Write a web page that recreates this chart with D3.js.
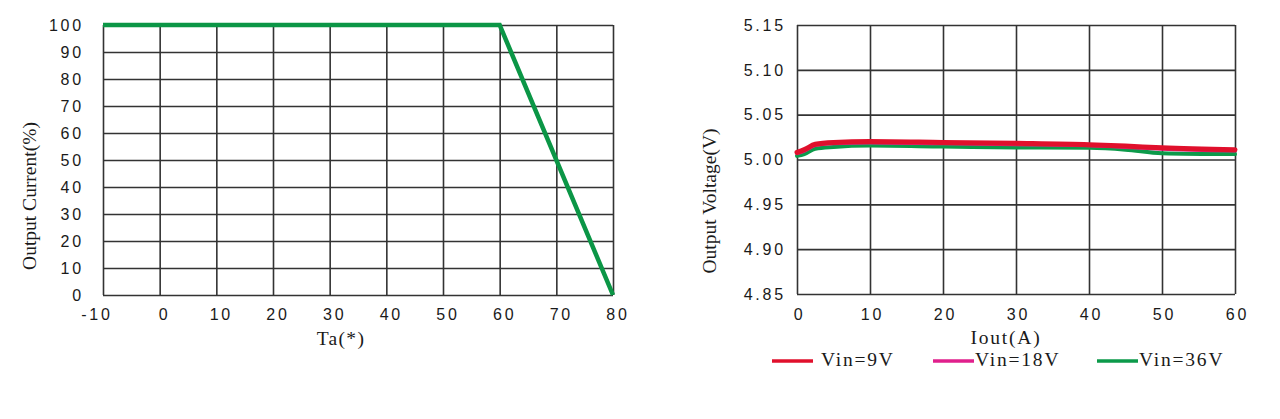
<!DOCTYPE html>
<html>
<head>
<meta charset="utf-8">
<script src="https://cdn.jsdelivr.net/npm/d3@7"></script>
<style>
  html, body { margin: 0; padding: 0; background: #fff; }
  svg { display: block; }
  .tick-label { font-family: "Liberation Sans", Arial, sans-serif; font-size: 16px; letter-spacing: 2.8px; fill: #1a1a1a; }
  .title { font-family: "Liberation Serif", "Times New Roman", serif; font-size: 19.5px; fill: #1a1a1a; }
</style>
</head>
<body>
<svg id="chart" width="1280" height="419"></svg>
<script>
// ---------- Data: derating curve (left) ----------
const deratingTicksX = [-10, 0, 10, 20, 30, 40, 50, 60, 70, 80];
const deratingTicksY = [0, 10, 20, 30, 40, 50, 60, 70, 80, 90, 100];
const deratingTemp = [-10, 60, 80];
const deratingCurrent = [100, 100, 0];

// ---------- Data: load regulation (right) ----------
const ioutTicks = [0, 10, 20, 30, 40, 50, 60];
const voutTicks = [4.85, 4.90, 4.95, 5.00, 5.05, 5.10, 5.15];
const iout = [0, 1, 2.5, 5, 10, 20, 30, 40, 45, 50, 60];
const vin9 = [5.008, 5.011, 5.017, 5.019, 5.020, 5.019, 5.018, 5.0165, 5.015, 5.013, 5.011];
const vin18 = [5.007, 5.010, 5.016, 5.018, 5.019, 5.018, 5.017, 5.016, 5.014, 5.012, 5.010];
const vin36 = [5.004, 5.006, 5.012, 5.014, 5.0155, 5.0145, 5.0135, 5.013, 5.011, 5.007, 5.006];
const seriesNames = ["Vin=9V", "Vin=18V", "Vin=36V"];
const seriesColors = ["#e0102c", "#e0208c", "#0c9a4a"];

const svg = d3.select("#chart");
const gridColor = "#333333";

function drawGrid(g, x, y, xTicks, yTicks) {
  const [x0, x1] = x.range();
  const [y0, y1] = y.range();
  g.append("g").attr("transform", `translate(0,${y0})`)
    .call(d3.axisBottom(x).tickValues(xTicks).tickSize(-(y0 - y1)).tickFormat(""))
    .call(a => a.select(".domain").remove())
    .call(a => a.selectAll("line").attr("stroke", gridColor).attr("stroke-width", 1.6));
  g.append("g").attr("transform", `translate(${x0},0)`)
    .call(d3.axisLeft(y).tickValues(yTicks).tickSize(-(x1 - x0)).tickFormat(""))
    .call(a => a.select(".domain").remove())
    .call(a => a.selectAll("line").attr("stroke", gridColor).attr("stroke-width", 1.6));
}

// ---------- Left chart ----------
{
  const x = d3.scaleLinear().domain([-10, 80]).range([103, 613]);
  const y = d3.scaleLinear().domain([0, 100]).range([295, 25]);
  const g = svg.append("g");
  drawGrid(g, x, y, deratingTicksX, deratingTicksY);

  g.selectAll(".ylab").data(deratingTicksY).join("text")
    .attr("class", "tick-label").attr("text-anchor", "end")
    .attr("x", 84).attr("y", d => y(d)).attr("dy", "0.36em")
    .text(d => d);
  g.selectAll(".xlab").data(deratingTicksX).join("text")
    .attr("class", "tick-label").attr("text-anchor", "middle")
    .attr("x", d => x(d) + (d < 0 ? -6 : 5)).attr("y", 320)
    .text(d => d);

  g.append("text").attr("class", "title").attr("text-anchor", "middle")
    .attr("x", 341).attr("y", 345).style("letter-spacing", "1.3px").text("Ta(*)");
  g.append("text").attr("class", "title").attr("text-anchor", "middle")
    .attr("transform", "translate(36,196) rotate(-90)")
    .text("Output Current(%)");

  const line = d3.line().x(d => x(d[0])).y(d => y(d[1]));
  g.append("path").datum(deratingTemp.map((t, i) => [t, deratingCurrent[i]]))
    .attr("d", line).attr("fill", "none").attr("stroke", "#0b9646")
    .attr("stroke-width", 4.5).attr("stroke-linejoin", "miter");
}

// ---------- Right chart ----------
{
  const x = d3.scaleLinear().domain([0, 60]).range([797, 1235]);
  const y = d3.scaleLinear().domain([4.85, 5.15]).range([294, 25]);
  const g = svg.append("g");
  drawGrid(g, x, y, ioutTicks, voutTicks);

  g.selectAll(".ylab").data(voutTicks).join("text")
    .attr("class", "tick-label").attr("text-anchor", "end")
    .attr("x", 786).attr("y", d => y(d)).attr("dy", "0.36em")
    .text(d => d.toFixed(2));
  g.selectAll(".xlab").data(ioutTicks).join("text")
    .attr("class", "tick-label").attr("text-anchor", "middle")
    .attr("x", d => x(d) + 2.5).attr("y", 320)
    .text(d => d);

  g.append("text").attr("class", "title").attr("text-anchor", "middle")
    .attr("x", 1006).attr("y", 344).style("letter-spacing", "1.8px").text("Iout(A)");
  g.append("text").attr("class", "title").attr("text-anchor", "middle")
    .attr("transform", "translate(716,201) rotate(-90)")
    .text("Output Voltage(V)");

  const line = d3.line().curve(d3.curveMonotoneX).x(d => x(d[0])).y(d => y(d[1]));
  const series = [vin9, vin18, vin36].map((vals, i) => ({
    name: seriesNames[i], color: seriesColors[i],
    pts: iout.map((a, j) => [a, vals[j]])
  }));
  const widths = [5, 4, 4];
  // draw green first, red on top
  [2, 1, 0].forEach(i => {
    g.append("path").datum(series[i].pts).attr("d", line)
      .attr("fill", "none").attr("stroke", series[i].color)
      .attr("stroke-width", widths[i]).attr("stroke-linecap", "round");
  });

  // legend
  const legendX = [772, 933, 1097];
  const lg = g.append("g");
  series.forEach((s, i) => {
    lg.append("line").attr("x1", legendX[i]).attr("x2", legendX[i] + 41)
      .attr("y1", 361).attr("y2", 361)
      .attr("stroke", s.color).attr("stroke-width", 3.5);
    lg.append("text").attr("class", "title")
      .attr("x", legendX[i] + (i === 0 ? 49 : 42)).attr("y", 366)
      .style("letter-spacing", "1.8px").text(s.name);
  });
}
</script>
</body>
</html>
